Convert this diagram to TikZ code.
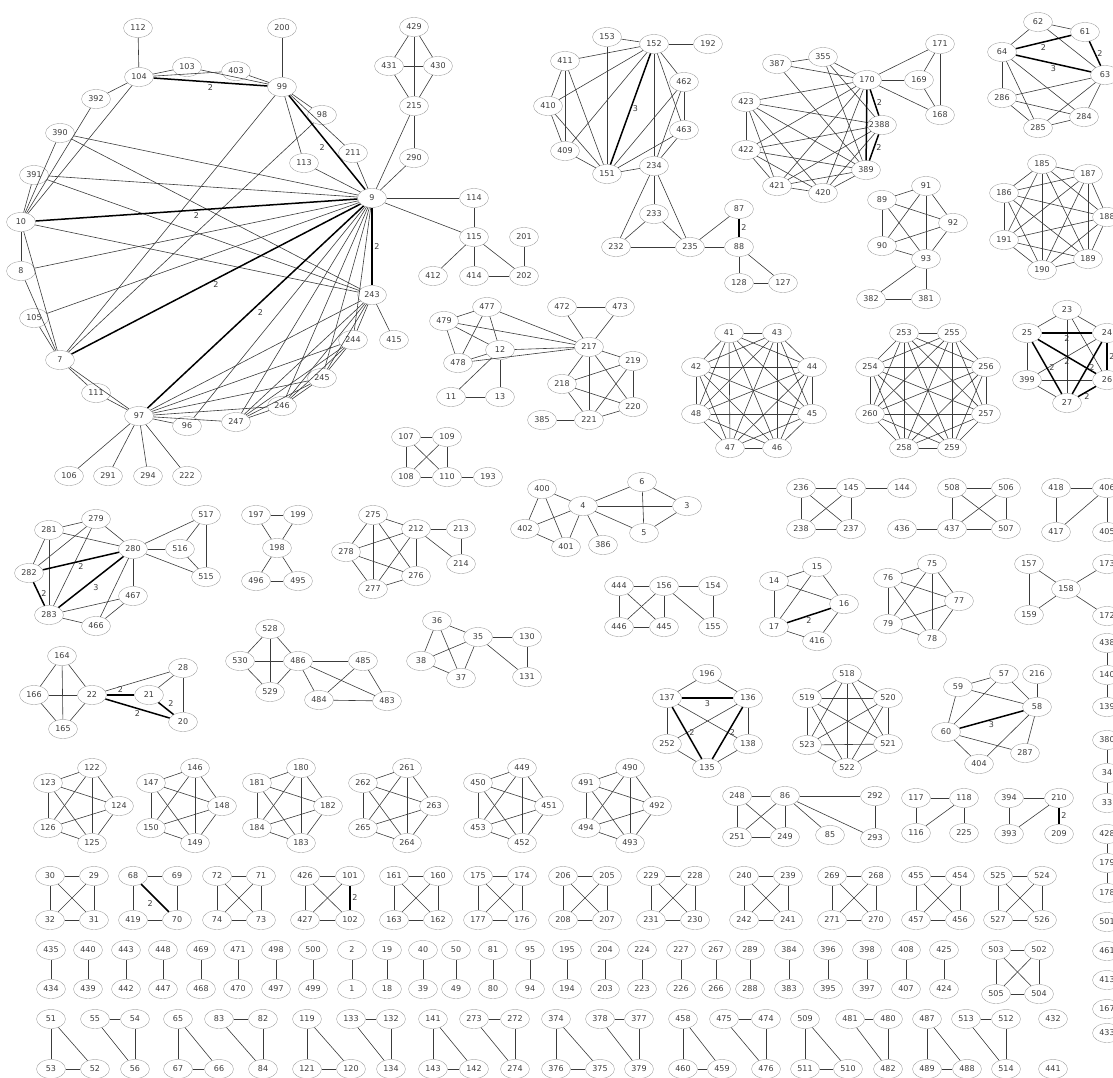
\documentclass[tikz,border=0pt]{standalone}
\usepackage{fontspec}
\setmainfont{DejaVu Sans}
\usetikzlibrary{shapes.geometric}
\definecolor{rimGray}{RGB}{165,165,165}
\definecolor{inkGray}{RGB}{60,60,60}
\newcommand\clique[1]{\foreach \ca [count=\ia] in {#1} {\foreach \cb [count=\ib] in {#1} {\ifnum\ia<\ib \draw[e] (v\ca) -- (v\cb);\fi}}}

\begin{document}
\begin{tikzpicture}[x=1pt, y=-1pt,
  v/.style={ellipse, draw=rimGray, minimum width=29pt, minimum height=19pt, inner sep=0pt, font=\fontsize{8}{9}\selectfont, text=inkGray},
  e/.style={draw=inkGray, line width=0.6pt},
  heavy/.style={draw=black, line width=1.5pt},
  wl/.style={font=\fontsize{8}{9}\selectfont, text=inkGray, inner sep=1.5pt}]
\useasboundingbox (0,0) rectangle (1113,1077);

% nodes
\foreach \n/\x/\y in {112/138/28, 104/139/77, 103/187/67, 403/236/71, 99/282/87, 200/282/28, 392/96/99, 390/60/133, 98/322/115, 391/34/175, 211/353/153, 113/304/163, 9/372/198, 10/21/222, 8/21/271, 105/34/318, 7/60/360, 111/96/393, 97/139/416, 96/187/426, 247/236/422, 246/282/406, 245/322/378, 244/353/340, 243/372/295, 415/394/340, 106/69/476, 291/108/476, 294/148/476, 222/187/476, 429/414/27, 431/389/66, 430/438/66, 215/414/106, 290/414/158, 114/474/198, 115/474/237, 201/524/237, 412/433/276, 414/474/276, 202/524/276}
  \node[v] (v\n) at (\x,\y) {\n};
\foreach \n/\x/\y in {153/607/37, 152/654/44, 192/708/44, 411/565/61, 410/548/106, 462/684/82, 463/684/130, 409/565/151, 151/607/174, 234/654/166, 233/654/214, 232/616/247, 235/690/247, 87/739/209, 88/739/247, 128/739/283, 127/783/283, 387/777/64, 355/823/57, 170/867/80, 169/919/80, 171/940/44, 168/940/115, 388/882/125, 389/866/170, 423/746/102, 422/746/150, 421/777/186, 420/823/193, 62/1038/22, 61/1085/32, 64/1002/52, 63/1105/75, 286/1002/98, 284/1084/117, 285/1038/128, 185/1042/164, 187/1088/174, 186/1004/193, 188/1107/217, 191/1004/240, 189/1088/259, 190/1042/270, 89/882/200, 91/926/186, 92/953/223, 90/882/246, 93/926/259, 382/871/299, 381/926/299, 23/1067/310, 25/1027/333, 24/1107/333, 399/1027/380, 26/1107/380, 27/1067/403}
  \node[v] (v\n) at (\x,\y) {\n};
\foreach \n/\x/\y in {41/729/333, 43/777/333, 42/696/367, 44/812/367, 48/696/414, 45/812/414, 47/730/448, 46/777/448, 253/904/333, 255/952/333, 254/870/367, 256/986/367, 260/870/414, 257/986/414, 258/904/448, 259/952/448, 477/487/307, 479/444/321, 12/500/350, 478/458/363, 11/451/397, 13/500/397, 472/562/307, 473/620/307, 217/589/347, 219/633/361, 218/562/384, 220/633/407, 221/589/420, 385/542/420, 107/406/437, 109/447/437, 108/406/477, 110/447/477, 193/488/477, 400/542/489, 4/583/506, 6/642/482, 3/687/506, 5/644/533, 402/525/529, 401/566/547, 386/603/545}
  \node[v] (v\n) at (\x,\y) {\n};
\foreach \n/\x/\y in {236/801/488, 145/851/488, 144/902/488, 238/801/529, 237/851/529, 508/952/488, 506/1006/488, 436/902/529, 437/952/529, 507/1006/529, 418/1056/488, 406/1107/488, 417/1056/532, 405/1107/532, 157/1029/564, 173/1107/564, 158/1066/589, 159/1029/615, 172/1107/616, 438/1107/643, 140/1107/675, 139/1107/707, 380/1107/740, 34/1107/773, 33/1107/803, 428/1107/834, 179/1107/863, 178/1107/893, 501/1107/922, 461/1107/951, 413/1107/980, 167/1107/1009, 433/1107/1033, 444/619/586, 156/664/586, 154/713/586, 446/619/627, 445/664/627, 155/713/627, 14/774/581, 15/817/567, 16/844/604, 17/774/627, 416/817/641, 75/932/564, 76/888/578, 77/959/601, 79/888/624, 78/932/639}
  \node[v] (v\n) at (\x,\y) {\n};
\foreach \n/\x/\y in {197/256/515, 199/298/515, 198/277/548, 496/256/581, 495/298/581, 275/373/515, 212/416/529, 213/461/529, 278/346/552, 276/416/576, 277/373/589, 214/461/564, 281/49/530, 279/96/519, 280/133/549, 516/180/549, 517/206/515, 515/206/577, 282/29/573, 283/49/615, 466/96/626, 467/133/596, 164/62/656, 166/34/695, 22/92/695, 165/63/729, 28/183/668, 21/149/695, 20/183/722, 528/270/629, 530/240/661, 486/298/661, 485/363/661, 529/270/692, 484/319/700, 483/387/701, 36/437/621, 35/478/637, 130/527/637, 38/421/661, 37/461/678, 131/527/677}
  \node[v] (v\n) at (\x,\y) {\n};
\foreach \n/\x/\y in {196/707/674, 137/667/698, 136/748/698, 252/667/744, 138/748/744, 135/707/768, 518/847/674, 519/807/698, 520/888/698, 523/807/745, 521/888/744, 522/847/768, 59/958/687, 57/1004/674, 216/1037/674, 58/1037/707, 60/946/732, 287/1025/753, 404/979/764, 248/737/796, 86/785/796, 292/875/796, 251/737/837, 249/785/837, 85/830/835, 293/875/838, 117/916/798, 118/964/798, 116/916/833, 225/964/833, 394/1009/798, 210/1059/798, 393/1009/834, 209/1059/834, 68/133/876, 69/177/876, 419/133/920, 70/177/920, 426/305/876, 101/350/876, 427/305/920, 102/350/920, 503/996/950, 502/1039/950, 505/996/994, 504/1039/994, 432/1053/1019, 441/1053/1069}
  \node[v] (v\n) at (\x,\y) {\n};

% five-cliques
\foreach \ka/\kb/\kc/\kd/\ke/\x in {122/123/124/126/125/92, 146/147/148/150/149/195, 180/181/182/184/183/301, 261/262/263/265/264/407, 449/450/451/453/452/522, 490/491/492/494/493/630} {
  \node[v] (v\ka) at (\x,768) {\ka};
  \node[v] (v\kb) at (\x-44,783) {\kb};
  \node[v] (v\kc) at (\x+27,806) {\kc};
  \node[v] (v\kd) at (\x-44,828) {\kd};
  \node[v] (v\ke) at (\x,843) {\ke};
  \clique{\ka,\kb,\kc,\kd,\ke}
}
% four-cliques
\foreach \ka/\kb/\kc/\kd/\x in {30/29/32/31/50, 72/71/74/73/217, 161/160/163/162/394, 175/174/177/176/478, 206/205/208/207/563, 229/228/231/230/651, 240/239/242/241/744, 269/268/271/270/832, 455/454/457/456/916, 525/524/527/526/998} {
  \node[v] (v\ka) at (\x,876) {\ka};
  \node[v] (v\kb) at (\x+44,876) {\kb};
  \node[v] (v\kc) at (\x,920) {\kc};
  \node[v] (v\kd) at (\x+44,920) {\kd};
  \clique{\ka,\kb,\kc,\kd}
}
% pairs
\foreach \ka/\kb/\x in {435/434/51, 440/439/88, 443/442/126, 448/447/163, 469/468/201, 471/470/238, 498/497/276, 500/499/313, 2/1/352, 19/18/387, 40/39/423, 50/49/456, 81/80/493, 95/94/530, 195/194/567, 204/203/605, 224/223/642, 227/226/681, 267/266/716, 289/288/750, 384/383/789, 396/395/828, 398/397/867, 408/407/906, 425/424/944} {
  \node[v] (v\ka) at (\x,950) {\ka};
  \node[v] (v\kb) at (\x,989) {\kb};
  \draw[e] (v\ka) -- (v\kb);
}
% triangles
\foreach \ka/\kb/\kc/\x/\xx in {51/53/52/51/95, 65/67/66/178/219, 119/121/120/307/351, 141/143/142/433/474, 374/376/375/556/600, 458/460/459/683/722, 509/511/510/805/848, 487/489/488/927/967} {
  \node[v] (v\ka) at (\x,1019) {\ka};
  \node[v] (v\kb) at (\x,1069) {\kb};
  \node[v] (v\kc) at (\xx,1069) {\kc};
  \clique{\ka,\kb,\kc}
}
\foreach \ka/\kb/\kc/\x/\xx in {55/54/56/95/135, 83/82/84/219/263, 133/132/134/351/391, 273/272/274/474/515, 378/377/379/600/639, 475/474/476/724/766, 481/480/482/850/888, 513/512/514/966/1006} {
  \node[v] (v\ka) at (\x,1019) {\ka};
  \node[v] (v\kb) at (\xx,1019) {\kb};
  \node[v] (v\kc) at (\xx,1069) {\kc};
  \clique{\ka,\kb,\kc}
}

% edges
\foreach \a/\b in {112/104, 104/103, 104/403, 103/99, 403/99, 200/99, 104/392, 104/10, 392/10, 390/10, 391/10, 390/9, 390/243, 391/9, 391/243, 10/8, 10/7, 10/243, 8/9, 8/7, 105/9, 105/7, 7/111, 7/97, 111/97, 7/99, 7/98, 99/98, 99/211, 99/113, 211/9, 113/9, 9/215, 9/290, 9/114, 9/115, 9/244, 9/245, 9/246, 9/247, 9/96, 243/415, 243/244, 243/245, 243/246, 243/247, 243/97, 244/97, 245/97, 246/97, 247/97, 96/97, 97/106, 97/291, 97/294, 97/222, 244/245, 245/246, 246/247, 244/246, 244/247, 245/247, 429/431, 429/430, 429/215, 431/430, 431/215, 430/215, 215/290, 114/115, 115/412, 115/414, 115/202, 201/202, 414/202}
  \draw[e] (v\a) -- (v\b);
\foreach \a/\b in {153/152, 153/151, 152/192, 152/411, 152/410, 152/409, 152/234, 152/462, 152/463, 411/410, 411/409, 411/151, 410/409, 410/151, 409/151, 462/463, 462/151, 462/234, 463/151, 463/234, 234/151, 234/233, 234/232, 234/235, 233/232, 233/235, 232/235, 235/87, 235/88, 88/128, 88/127, 128/127, 387/355, 387/170, 387/389, 355/170, 355/388, 355/389, 170/420, 170/421, 170/422, 170/423, 388/420, 388/421, 388/422, 388/423, 389/420, 389/421, 389/422, 389/423, 420/421, 420/422, 420/423, 421/422, 421/423, 422/423, 170/171, 170/169, 170/168, 169/171, 169/168, 171/168}
  \draw[e] (v\a) -- (v\b);
\foreach \a/\b in {62/61, 62/64, 62/63, 64/286, 64/285, 64/284, 63/286, 63/285, 63/284, 286/284, 286/285, 285/284, 89/91, 89/92, 89/90, 89/93, 91/90, 91/93, 91/92, 90/92, 90/93, 92/93, 93/382, 93/381, 382/381, 23/25, 23/24, 23/27, 23/26, 399/25, 399/24, 399/26, 399/27, 479/477, 479/478, 479/12, 479/217, 477/478, 477/12, 477/217, 478/12, 478/217, 12/217, 12/11, 12/13, 11/13, 472/473, 472/217, 473/217, 385/221, 107/109, 107/108, 107/110, 109/108, 109/110, 108/110, 110/193, 400/4, 400/402, 400/401, 4/402, 4/401, 4/386, 4/6, 4/3, 4/5, 6/3, 6/5, 3/5, 402/401}
  \draw[e] (v\a) -- (v\b);
\foreach \a/\b in {236/145, 236/238, 236/237, 145/144, 145/237, 145/238, 238/237, 508/506, 508/437, 508/507, 506/437, 506/507, 436/437, 437/507, 418/406, 418/417, 406/417, 406/405, 157/158, 157/159, 158/173, 158/159, 158/172, 438/140, 140/139, 380/34, 34/33, 428/179, 179/178, 444/156, 444/446, 444/445, 156/446, 156/445, 156/154, 156/155, 154/155, 446/445, 14/15, 14/17, 14/16, 15/17, 15/16, 17/416, 16/416, 197/199, 197/198, 199/198, 198/496, 198/495, 496/495, 275/212, 275/278, 275/277, 275/276, 212/278, 212/277, 212/276, 212/213, 212/214, 213/214, 278/277, 278/276, 277/276}
  \draw[e] (v\a) -- (v\b);
\foreach \a/\b in {281/279, 281/280, 281/282, 281/283, 279/280, 279/282, 279/283, 280/467, 280/466, 280/516, 280/517, 280/515, 516/517, 516/515, 517/515, 283/467, 283/466, 466/467, 164/166, 164/22, 164/165, 166/22, 166/165, 22/165, 22/28, 21/28, 28/20, 528/530, 528/486, 528/529, 530/486, 530/529, 529/486, 486/485, 486/484, 486/483, 485/484, 485/483, 484/483, 36/35, 36/38, 36/37, 35/38, 35/37, 35/130, 35/131, 130/131, 38/37, 196/137, 196/136, 137/252, 137/138, 136/252, 136/138, 252/135, 138/135, 59/57, 59/58, 59/60, 57/60, 57/58, 216/58, 60/287, 60/404, 58/287, 58/404}
  \draw[e] (v\a) -- (v\b);
\foreach \a/\b in {248/86, 248/251, 248/249, 86/251, 86/249, 86/85, 86/292, 86/293, 251/249, 292/293, 117/118, 117/116, 118/116, 118/225, 394/210, 394/393, 210/393, 68/69, 68/419, 69/70, 419/70, 426/101, 426/427, 426/102, 101/427, 427/102, 503/502, 503/505, 503/504, 502/505, 502/504, 505/504}
  \draw[e] (v\a) -- (v\b);
\clique{185,187,188,189,190,191,186}
\clique{41,43,44,45,46,47,48,42}
\clique{253,255,256,257,259,258,260,254}
\clique{217,219,220,221,218}
\clique{76,75,77,78,79}
\clique{518,520,521,522,523,519}

% weighted edges
\foreach \a/\b/\w/\p in {104/99/2/north, 99/9/2/north east, 10/9/2/north, 7/9/2/north, 97/9/2/north west, 9/243/2/west, 152/151/3/west, 87/88/2/west, 170/388/2/west, 388/389/2/west, 170/389/2/west, 64/61/2/north, 64/63/3/north, 61/63/2/west, 25/24/2/north, 25/26/2/north, 25/27/2/west, 24/27/2/west, 24/26/2/west, 26/27/2/north, 280/282/2/north, 282/283/2/west, 280/283/3/north west, 22/21/2/south, 21/20/2/south west, 22/20/2/north, 17/16/2/north, 137/136/3/north, 137/135/2/west, 136/135/2/west, 60/58/3/north, 68/70/2/north east, 101/102/2/west, 210/209/2/west}
  \draw[heavy] (v\a) -- node[wl, anchor=\p] {\w} (v\b);
\end{tikzpicture}
\end{document}
